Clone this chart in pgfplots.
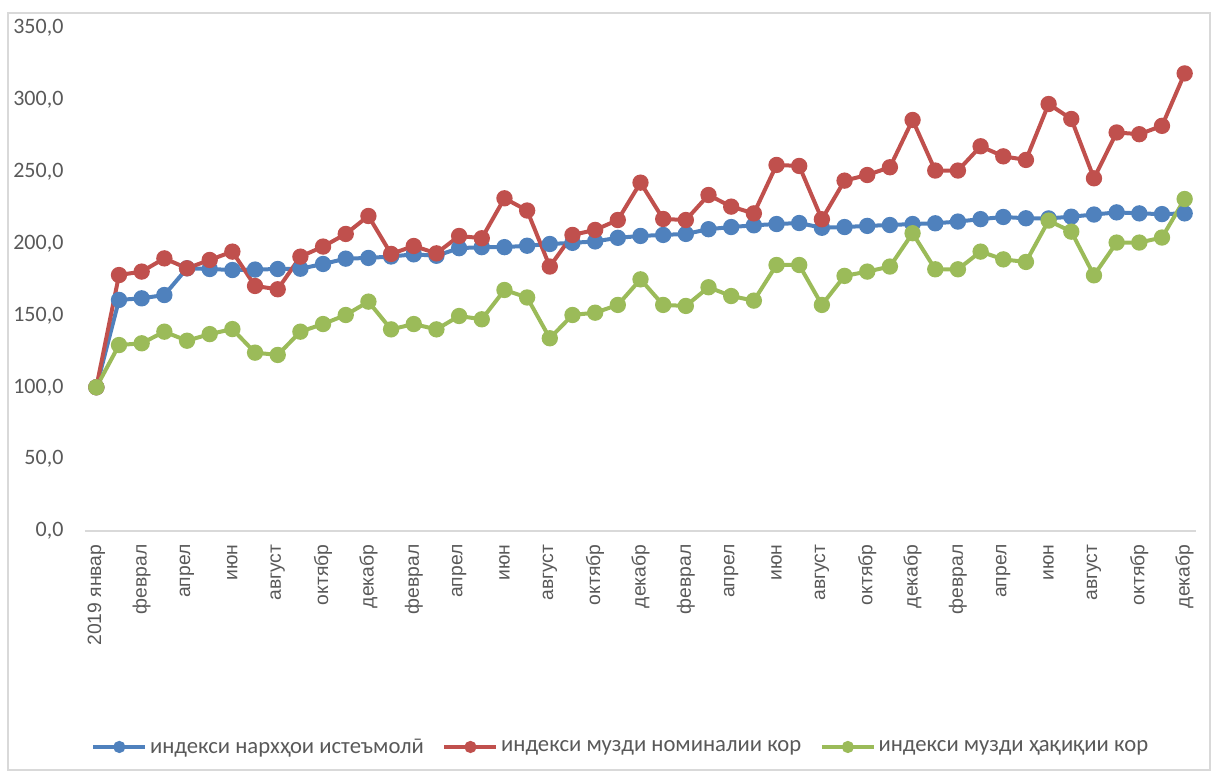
\documentclass[border=0pt]{standalone}
\usepackage{fontspec}
\setmainfont{Carlito}
\newfontfamily\xfont{Liberation Sans}
\usepackage{pgfplots}
\pgfplotsset{compat=1.18}
\definecolor{cblue}{HTML}{4F81BD}
\definecolor{cred}{HTML}{C0504D}
\definecolor{cgreen}{HTML}{9BBB59}
\definecolor{txt}{HTML}{595959}
\definecolor{axl}{HTML}{D9D9D9}
\begin{document}
\begin{tikzpicture}
\useasboundingbox (-63.75pt,-184.5pt) rectangle (849.75pt,398.25pt);
\draw[axl, line width=0.8pt] (-57.75pt,-179.25pt) rectangle (843.75pt,388.5pt);
\begin{axis}[
  at={(0pt,0pt)}, anchor=south west,
  scale only axis, width=833.25pt, height=377.25pt,
  xmin=-0.5, xmax=48.5, ymin=0, ymax=350,
  axis x line=bottom, axis y line=left,
  x axis line style={axl, line width=0.8pt, -},
  y axis line style={draw=none},
  major tick length=0pt,
  ytick={0,50,...,350},
  xtick={0,2,...,48},
  xticklabels={2019 январ,феврал,апрел,июн,август,октябр,декабр,феврал,апрел,июн,август,октябр,декабр,феврал,апрел,июн,август,октябр,декабр,феврал,апрел,июн,август,октябр,декабр},
  xticklabel style={rotate=90, anchor=east, inner sep=0pt, font=\xfont\fontsize{14.5}{14.5}\selectfont, text=txt},
  xticklabel shift=10pt,
  yticklabel style={anchor=east, inner sep=0pt, font=\fontsize{16.5}{16.5}\selectfont, text=txt,
    /pgf/number format/.cd, fixed, fixed zerofill, precision=1, use comma, assume math mode=true},
  yticklabel shift=16pt,
  legend columns=3,
  legend style={at={(axis description cs:0.4825,-0.4294)}, anchor=center, draw=none, fill=none,
    font=\fontsize{17}{17}\selectfont, text=txt,
    /tikz/every even column/.append style={column sep=12pt}},
  legend image code/.code={\draw[#1, mark=none, line width=3pt] (0pt,0pt) -- (39pt,0pt);
     \fill[#1] (19.5pt,0pt) circle (3pt);},
  every axis plot/.append style={line width=3pt, mark=*, mark size=4.6pt, mark options={solid}},
]
\addplot[cblue, mark options={fill=cblue, draw=cblue}] coordinates {
(0,100)(1,160.8)(2,161.9)(3,164.2)(4,182.8)(5,182.3)(6,181.6)(7,181.9)(8,182.3)(9,182.5)
(10,185.8)(11,189.5)(12,190)(13,191)(14,192.5)(15,191.5)(16,196.8)(17,197.5)(18,197.5)(19,198.5)
(20,199.7)(21,200.5)(22,201.5)(23,204)(24,205.3)(25,206)(26,206.7)(27,210)(28,211.5)(29,212.7)
(30,213.6)(31,214.3)(32,211)(33,211.5)(34,212.3)(35,212.9)(36,213.6)(37,214.1)(38,215.3)(39,217)
(40,218.5)(41,217.6)(42,217.5)(43,218.7)(44,220.2)(45,221.7)(46,221)(47,220.5)(48,221)};
\addlegendentry{индекси нархҳои истеъмолӣ}
\addplot[cred, mark options={fill=cred, draw=cred}] coordinates {
(0,100)(1,178.1)(2,180.5)(3,189.7)(4,182.8)(5,188.6)(6,194.4)(7,170.5)(8,168.2)(9,190.9)
(10,197.9)(11,206.7)(12,219.2)(13,192.8)(14,198.3)(15,193.2)(16,205.3)(17,203.7)(18,231.5)(19,223)
(20,184)(21,206)(22,209.5)(23,216.4)(24,242.4)(25,217.1)(26,216.4)(27,233.8)(28,225.7)(29,221)
(30,254.7)(31,254)(32,216.9)(33,243.8)(34,247.7)(35,253.1)(36,286)(37,250.8)(38,250.8)(39,267.7)
(40,260.7)(41,258.2)(42,297.1)(43,286.7)(44,245.4)(45,277.3)(46,276.1)(47,281.9)(48,318.4)};
\addlegendentry{индекси музди номиналии кор}
\addplot[cgreen, mark options={fill=cgreen, draw=cgreen}] coordinates {
(0,100)(1,129.4)(2,130.6)(3,138.7)(4,132.4)(5,137)(6,140.5)(7,124.1)(8,122.5)(9,138.7)
(10,144)(11,150.3)(12,159.6)(13,140.3)(14,144)(15,140.3)(16,149.6)(17,147.3)(18,167.7)(19,162.5)
(20,134.1)(21,150.3)(22,151.9)(23,157.3)(24,175.1)(25,157.3)(26,156.6)(27,169.6)(28,163.5)(29,160.3)
(30,185.1)(31,185.1)(32,157.3)(33,177.5)(34,180.5)(35,184)(36,207.2)(37,182.1)(38,182.1)(39,194.4)
(40,189)(41,187.2)(42,216)(43,208.3)(44,177.9)(45,200.7)(46,200.7)(47,204.2)(48,231)};
\addlegendentry{индекси музди ҳақиқии кор}
\end{axis}
\end{tikzpicture}
\end{document}
